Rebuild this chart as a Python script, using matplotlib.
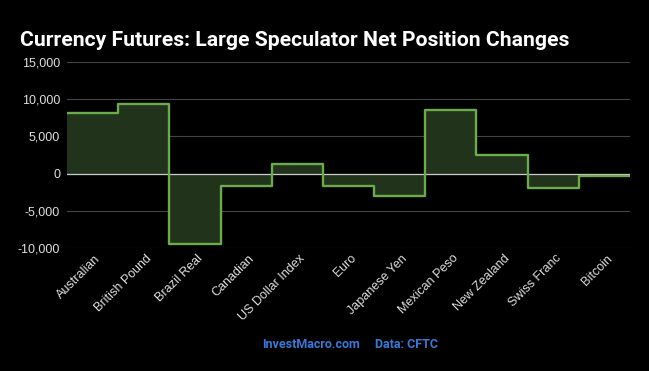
import numpy as np
import matplotlib.pyplot as plt
import matplotlib.transforms as mtransforms
from matplotlib.ticker import FuncFormatter

categories = ['Australian', 'British Pound', 'Brazil Real', 'Canadian', 'US Dollar Index',
              'Euro', 'Japanese Yen', 'Mexican Peso', 'New Zealand', 'Swiss Franc', 'Bitcoin']
net_changes = [8100, 9270, -9360, -1660, 1340, -1620, -3030, 8500, 2540, -1870, -360]
y_ticks = [-10000, -5000, 0, 5000, 10000, 15000]

plt.rcParams['font.family'] = ['Liberation Sans', 'DejaVu Sans']
narrow = ['Roboto', 'Liberation Sans', 'DejaVu Sans']

fig = plt.figure(figsize=(6.49, 3.71), dpi=100, facecolor='black')
ax = fig.add_axes([67/649, 1 - 248.3/371, (630 - 67)/649, (248.3 - 61.7)/371])
ax.set_facecolor('black')

edges = np.arange(len(categories) + 1)
ax.stairs(net_changes, edges, baseline=0, fill=True, color='#22331c', zorder=2)
ax.stairs(net_changes, edges, baseline=None, color='#6aac4c', linewidth=1.7,
          zorder=4, joinstyle='round')

ax.set_xlim(0, len(categories))
ax.set_ylim(-10000, 15000)
ax.set_yticks(y_ticks)
ax.yaxis.set_major_formatter(FuncFormatter(lambda v, p: f'{int(v):,}'))
ax.grid(axis='y', color='#444444', linewidth=0.8, zorder=1)
ax.axhline(0, color='#cccccc', linewidth=0.9, zorder=3)

ax.set_xticks(edges[:-1] + 0.5)
ax.set_xticklabels(categories, rotation=45, ha='right', va='center',
                   rotation_mode='anchor', color='#dddddd', fontsize=9)
ax.tick_params(axis='x', length=0, pad=6)
ax.tick_params(axis='y', length=0, pad=5, labelcolor='#dddddd', labelsize=9)
shift = mtransforms.ScaledTranslation(6/100, 0, fig.dpi_scale_trans)
for lbl in ax.get_xticklabels():
    lbl.set_transform(lbl.get_transform() + shift)
for s in ax.spines.values():
    s.set_visible(False)

fig.text(20/649, 1 - 46/371, 'Currency Futures: Large Speculator Net Position Changes',
         color='white', fontsize=15.2, fontweight='bold', va='baseline', ha='left',
         family=narrow)
fig.text(262/649, 1 - 345/371, 'InvestMacro.com', color='#3a78d8', fontsize=9,
         fontweight='bold', va='center', ha='left', family=narrow)
fig.text(375/649, 1 - 345/371, 'Data: CFTC', color='#3a78d8', fontsize=9,
         fontweight='bold', va='center', ha='left', family=narrow)

fig.savefig('out.png', dpi=100, facecolor='black')
